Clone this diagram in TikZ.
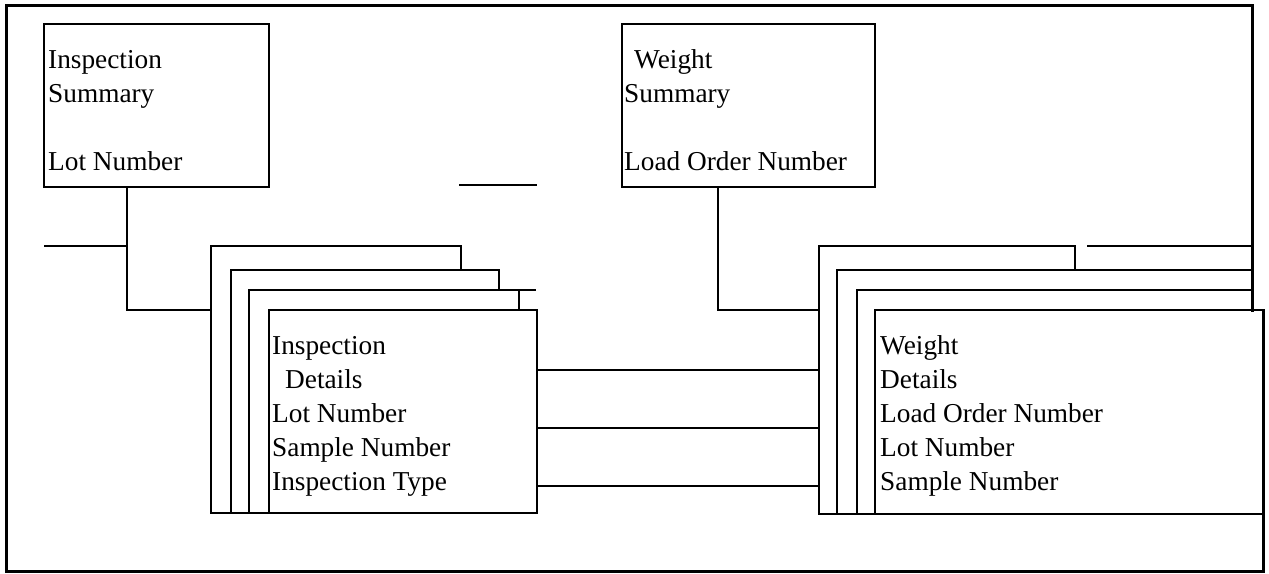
\documentclass[tikz,border=0pt]{standalone}
\usepackage{fontspec}
\setmainfont{Liberation Serif}
\tikzset{
  frameline/.style={line width=3pt, line cap=rect},
  ln/.style={line width=1.8pt, line cap=rect},
  entbox/.style={draw, rectangle, line width=1.8pt, inner sep=0pt, outer sep=0pt, anchor=north west},
  txt/.style={inner sep=0pt, anchor=base west, font=\fontsize{27.3}{34}\selectfont}
}
\begin{document}
\begin{tikzpicture}[x=1pt,y=-1pt]
\useasboundingbox (0,0) rectangle (1269,573);
% outer frame
\draw[frameline] (1252,310) -- (1252,5) -- (6,5) -- (6,571) -- (1263,571) -- (1263,310);

% summary boxes
\node[entbox, minimum width=225pt, minimum height=163pt] (is) at (44,24) {};
\node[entbox, minimum width=253pt, minimum height=163pt] (ws) at (622,24) {};
\node[txt] (istxt) at (48,68) {\begin{tabular}[t]{@{}l@{}}Inspection\\Summary\\ \\Lot Number\end{tabular}};
\node[txt] (wstxt) at (624,68) {\begin{tabular}[t]{@{}l@{}}\hspace{10pt}Weight\\Summary\\ \\Load Order Number\end{tabular}};

% inspection details stack
\draw[ln] (211,513) -- (211,246) -- (461,246) -- (461,270);
\draw[ln] (231,513) -- (231,270) -- (499,270) -- (499,290);
\draw[ln] (249,513) -- (249,290) -- (535,290);
\draw[ln] (519,290) -- (519,310);
\node[entbox, minimum width=268pt, minimum height=203pt] (id) at (269,310) {};
\draw[ln] (211,513) -- (id.south west);
\node[txt] (idtxt) at (272,354) {\begin{tabular}[t]{@{}l@{}}Inspection\\\hspace{13pt}Details\\Lot Number\\Sample Number\\Inspection Type\end{tabular}};

% weight details stack
\draw[ln] (819,514) -- (819,246) -- (1075,246) -- (1075,270);
\draw[ln] (1088,246) -- (1252,246);
\draw[ln] (837,514) -- (837,270) -- (1252,270);
\draw[ln] (857,514) -- (857,290) -- (1252,290);
\node[entbox, minimum width=388pt, minimum height=204pt] (wd) at (875,310) {};
\draw[ln] (819,514) -- (wd.south west);
\node[txt] (wdtxt) at (880,354) {\begin{tabular}[t]{@{}l@{}}Weight\\Details\\Load Order Number\\Lot Number\\Sample Number\end{tabular}};

% connectors
\coordinate (isout) at (127,187);
\coordinate (idback) at (211,310);
\coordinate (isstub) at (45,246);
\draw[ln] (isout) |- (idback);
\draw[ln] (isstub) -- (isout |- isstub);
\coordinate (wsout) at (718,187);
\coordinate (wdback) at (819,310);
\draw[ln] (wsout) |- (wdback);
\coordinate (orphA) at (460,185);
\coordinate (orphB) at (536,185);
\draw[ln] (orphA) -- (orphB);
\foreach \yy in {370,428,486} {
  \draw[ln] (id.east |- 0,\yy) -- (819,\yy);
}
\end{tikzpicture}
\end{document}
